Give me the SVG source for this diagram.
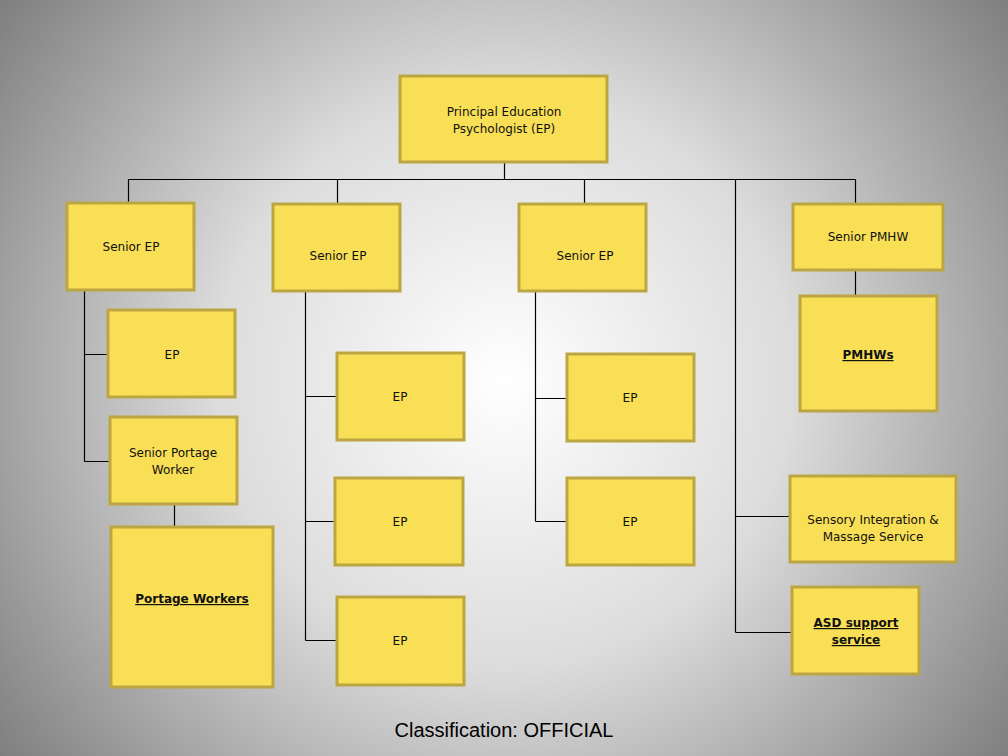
<svg xmlns="http://www.w3.org/2000/svg" width="1008" height="756" viewBox="0 0 1008 756">
<defs>
<radialGradient id="bg" cx="504" cy="380" r="640" gradientUnits="userSpaceOnUse">
<stop offset="0" stop-color="#ffffff"/>
<stop offset="0.45" stop-color="#dcdcdc"/>
<stop offset="1" stop-color="#7c7c7c"/>
</radialGradient>
<style>
.box{fill:#f9df56;stroke:#bba642;stroke-width:3}
.t{font-family:"DejaVu Sans","Liberation Sans",sans-serif;font-size:12px;fill:#111;text-anchor:middle}
.b{font-weight:bold;text-decoration:underline}
.c{fill:none;stroke:#000;stroke-width:1.2}
</style>
</defs>
<rect width="1008" height="756" fill="url(#bg)"/>
<g id="connectors" class="c">
<path d="M504.5 162V179.5M128.5 179.5H855.5M128.5 179.5V203M337.5 179.5V204M584.5 179.5V204M855.5 179.5V204M735.5 179.5V632.5M735.5 516.5H790M735.5 632.5H791"/>
<path d="M855.5 270V296"/>
<path d="M84.5 290V461.5M84.5 354.5H108M84.5 461.5H110M174.5 504V527"/>
<path d="M305.5 291V640.5M305.5 396.5H336M305.5 521.5H335M305.5 640.5H336"/>
<path d="M535.5 291V521.5M535.5 398.5H566M535.5 521.5H566"/>
</g>
<g id="principal"><rect class="box" x="400" y="76" width="207" height="86"/><text class="t" x="504" y="116">Principal Education</text><text class="t" x="504" y="133">Psychologist (EP)</text></g>
<g id="senior-ep-1"><rect class="box" x="67" y="203" width="127" height="87"/><text class="t" x="131" y="251">Senior EP</text></g>
<g id="senior-ep-2"><rect class="box" x="273" y="204" width="127" height="87"/><text class="t" x="338" y="260">Senior EP</text></g>
<g id="senior-ep-3"><rect class="box" x="519" y="204" width="127" height="87"/><text class="t" x="585" y="260">Senior EP</text></g>
<g id="senior-pmhw"><rect class="box" x="793" y="204" width="150" height="66"/><text class="t" x="868" y="241">Senior PMHW</text></g>
<g id="pmhws"><rect class="box" x="800" y="296" width="137" height="115"/><text class="t b" x="868" y="359">PMHWs</text></g>
<g id="ep-left"><rect class="box" x="108" y="310" width="127" height="87"/><text class="t" x="172" y="359">EP</text></g>
<g id="senior-portage"><rect class="box" x="110" y="417" width="127" height="87"/><text class="t" x="173" y="457">Senior Portage</text><text class="t" x="173" y="474">Worker</text></g>
<g id="portage-workers"><rect class="box" x="111" y="527" width="162" height="160"/><text class="t b" x="192" y="603">Portage Workers</text></g>
<g id="ep-m1"><rect class="box" x="337" y="353" width="127" height="87"/><text class="t" x="400" y="401">EP</text></g>
<g id="ep-m2"><rect class="box" x="335" y="478" width="128" height="87"/><text class="t" x="400" y="526">EP</text></g>
<g id="ep-m3"><rect class="box" x="337" y="597" width="127" height="88"/><text class="t" x="400" y="645">EP</text></g>
<g id="ep-r1"><rect class="box" x="567" y="354" width="127" height="87"/><text class="t" x="630" y="402">EP</text></g>
<g id="ep-r2"><rect class="box" x="567" y="478" width="127" height="87"/><text class="t" x="630" y="526">EP</text></g>
<g id="sensory"><rect class="box" x="790" y="476" width="166" height="86"/><text class="t" x="873" y="524">Sensory Integration &amp;</text><text class="t" x="873" y="541">Massage Service</text></g>
<g id="asd"><rect class="box" x="792" y="587" width="127" height="87"/><text class="t b" x="856" y="627">ASD support</text><text class="t b" x="856" y="644">service</text></g>
<text x="504" y="737" style="font-family:'Liberation Sans',Arial,sans-serif;font-size:20px;fill:#000;text-anchor:middle">Classification: OFFICIAL</text>
</svg>
